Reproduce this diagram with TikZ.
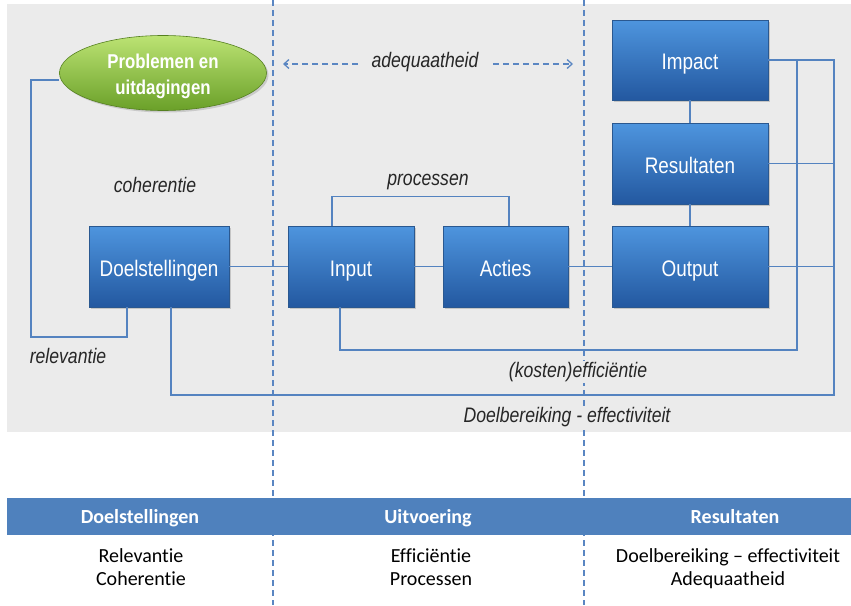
\documentclass[tikz,border=0pt]{standalone}
\usepackage{fontspec}
\setmainfont[FakeStretch=0.84]{Liberation Sans}
\newfontfamily\calfont[Ligatures={NoCommon}]{Carlito}
\usetikzlibrary{arrows.meta,shapes.geometric,shadows}
\definecolor{bgray}{HTML}{EBEBEB}
\definecolor{lblue}{HTML}{5483C0}
\definecolor{dblue}{HTML}{5A86C2}
\definecolor{boxtop}{HTML}{4E95DE}
\definecolor{boxbot}{HTML}{2358A0}
\definecolor{boxline}{HTML}{2A5890}
\definecolor{gtop}{HTML}{BCE374}
\definecolor{gbot}{HTML}{6AA028}
\definecolor{band}{HTML}{4F81BD}
\tikzset{
  bluebox/.style={rectangle, shading=axis, top color=boxtop, bottom color=boxbot,
    draw=boxline, line width=0.6pt, text=white, font=\fontsize{22.5}{24}\selectfont,
    minimum height=81pt, inner sep=0pt, text height=21pt, text depth=2pt,
    drop shadow={opacity=0.35, shadow xshift=2pt, shadow yshift=-2pt}},
  conn/.style={draw=lblue, line width=1.5pt},
  vdash/.style={draw=dblue, line width=1.3pt, dash pattern=on 6pt off 4pt},
  lbl/.style={font=\itshape\fontsize{21}{22}\selectfont, text=black!85, fill=bgray, inner sep=1pt},
  thead/.style={font=\calfont\bfseries\fontsize{20}{22}\selectfont, text=white, anchor=base},
  tbody/.style={font=\calfont\fontsize{20}{22}\selectfont, text=black, anchor=base}
}
\begin{document}
\begin{tikzpicture}[x=1pt,y=-1pt]
\useasboundingbox (0,0) rectangle (851,605);
\fill[bgray] (7,4) rectangle (851,432);
% dashed column separators
\draw[vdash] (273,0) -- (273,605);
\draw[vdash] (584,0) -- (584,605);
% ellipse
\node[ellipse, shading=axis, top color=gtop, bottom color=gbot, draw=gbot!80!black,
  line width=0.6pt, minimum width=207pt, minimum height=75pt, inner sep=0pt,
  drop shadow={opacity=0.3, shadow xshift=2pt, shadow yshift=-2pt}]
  (ell) at (163,73) {};
\node[text=white, font=\bfseries\fontsize{20}{26}\selectfont, align=center, inner sep=0pt]
  (ellt) at ([yshift=-3pt]ell.center) {Problemen en\\uitdagingen};
% boxes
\node[bluebox, minimum width=140pt] (doel) at (159,266.5) {Doelstellingen};
\node[bluebox, minimum width=126pt] (input) at (351,266.5) {Input};
\node[bluebox, minimum width=125pt] (acties) at (505.5,266.5) {Acties};
\node[bluebox, minimum width=156pt] (output) at (690,266.5) {Output};
\node[bluebox, minimum width=156pt] (result) at (690,163.5) {Resultaten};
\node[bluebox, minimum width=156pt, minimum height=80pt] (impact) at (690,60) {Impact};
% connectors
\draw[conn] ([yshift=-7pt]ell.west) -| (31,337) -| ([xshift=-32pt]doel.south);
\draw[conn] (doel) -- (input);
\draw[conn] (input) -- (acties);
\draw[conn] (acties) -- (output);
\draw[conn] (impact) -- (result);
\draw[conn] (result) -- (output);
\draw[conn] ([xshift=-19pt]input.north) -- ++(0,-29) -| ([xshift=3.5pt]acties.north);
\draw[conn] ([xshift=-11pt]input.south) |- (797,350) |- (impact.east);
\draw[conn] ([xshift=12pt]doel.south) |- (834,395) |- (impact.east);
\draw[conn] (result.east) -- (834,163.5);
\draw[conn] (output.east) -- (834,266.5);
% adequaatheid arrows
\coordinate (aL) at (283,64);
\coordinate (aR) at (573,64);
\node[lbl] (adeq) at (425,62) {adequaatheid};
\draw[draw=dblue, line width=1.3pt, dash pattern=on 6pt off 4pt,
  -{Straight Barb[length=5pt,width=9pt]}] (358,64) -- (aL);
\draw[draw=dblue, line width=1.3pt, dash pattern=on 6pt off 4pt,
  -{Straight Barb[length=5pt,width=9pt]}] (493,64) -- (aR);
% labels
\node[lbl] (proc) at (428,182) {processen};
\node[lbl] (coh) at (155,185) {coherentie};
\node[lbl] (rel) at (68,356) {relevantie};
\node[lbl] (kost) at (578,372) {(kosten)efficiëntie};
\node[lbl] (doelb) at (567,417) {Doelbereiking - effectiviteit};
% table
\fill[band] (7,498) rectangle (851,535);
\node[thead] (h1) at (140,523) {Doelstellingen};
\node[thead] (h2) at (428,523) {Uitvoering};
\node[thead] (h3) at (735,523) {Resultaten};
\node[tbody] (b11) at (141,562) {Relevantie};
\node[tbody] (b12) at (141,585) {Coherentie};
\node[tbody] (b21) at (431,562) {Efficiëntie};
\node[tbody] (b22) at (431,585) {Processen};
\node[tbody] (b31) at (728,562) {Doelbereiking – effectiviteit};
\node[tbody] (b32) at (728,585) {Adequaatheid};
\end{tikzpicture}
\end{document}
